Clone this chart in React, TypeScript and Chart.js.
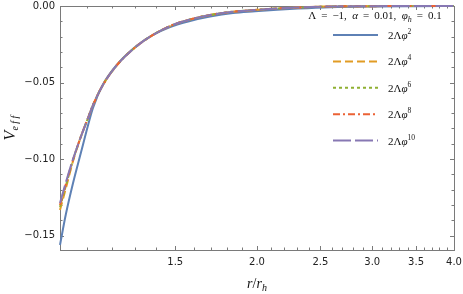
import React, { useEffect, useRef } from "react";
import { Chart, registerables } from "chart.js";

Chart.register(...registerables);

// ---- data ----
const rValues = [1.0, 1.021, 1.047, 1.077, 1.104, 1.123, 1.163, 1.226, 1.311, 1.387, 1.473, 1.58, 1.695, 1.838, 1.986, 2.146, 2.31, 2.586, 3.0, 3.5, 4.0];
const vPhi2 = [-0.1561, -0.1359, -0.1156, -0.0954, -0.0777, -0.0666, -0.0513, -0.0376, -0.0258, -0.0189, -0.0137, -0.0098, -0.0069, -0.0046, -0.0035, -0.0025, -0.0017, -0.0008, -0.0003, -0.0001, 0];
const vPhi4 = [-0.1333, -0.1189, -0.1013, -0.0850, -0.0730, -0.0647, -0.0516, -0.0379, -0.0261, -0.0189, -0.0131, -0.0088, -0.0059, -0.0037, -0.0026, -0.0016, -0.0010, -0.0003, -0.0001, 0, 0];
const vPhi6 = [-0.1313, -0.1173, -0.1006, -0.0850, -0.0730, -0.0647, -0.0516, -0.0379, -0.0261, -0.0189, -0.0131, -0.0088, -0.0059, -0.0037, -0.0026, -0.0016, -0.0010, -0.0003, -0.0001, 0, 0];
const vPhi8 = [-0.1300, -0.1163, -0.1003, -0.0850, -0.0730, -0.0647, -0.0516, -0.0379, -0.0261, -0.0189, -0.0131, -0.0088, -0.0059, -0.0037, -0.0026, -0.0016, -0.0010, -0.0003, -0.0001, 0, 0];
const vPhi10 = [-0.1287, -0.1152, -0.1000, -0.0850, -0.0730, -0.0647, -0.0516, -0.0379, -0.0261, -0.0189, -0.0131, -0.0088, -0.0059, -0.0037, -0.0026, -0.0016, -0.0010, -0.0003, -0.0001, 0, 0];

const seriesValues = [vPhi2, vPhi4, vPhi6, vPhi8, vPhi10];
const seriesBase = "2Λφ";
const seriesExponents = ["2", "4", "6", "8", "10"];
const seriesColors = ["#5E81B5", "#E19C24", "#8FB032", "#EB6235", "#8778B3"];
const seriesDashes: number[][] = [[], [8, 4], [3, 3], [7, 3, 2, 3], [18, 4]];

const xMajorTicks = [1.5, 2.0, 2.5, 3.0, 3.5, 4.0];
const xMinorTicks = [1.1, 1.2, 1.3, 1.4, 1.6, 1.7, 1.8, 1.9, 2.1, 2.2, 2.3, 2.4, 2.6, 2.7, 2.8, 2.9, 3.1, 3.2, 3.3, 3.4, 3.6, 3.7, 3.8, 3.9];
const yMajorTicks = [-0.15, -0.10, -0.05, 0.0];
const yMinorTicks = [-0.14, -0.13, -0.12, -0.11, -0.09, -0.08, -0.07, -0.06, -0.04, -0.03, -0.02, -0.01];

const X_MIN = 1.0;
const X_MAX = 4.0;
const Y_MIN = -0.1594;
const Y_MAX = 0.0;

const SERIF = '"Liberation Serif", "DejaVu Serif", serif';
const SANS = '"DejaVu Sans", sans-serif';
const FRAME = "#7a7a7a";
const TS = "\u2009";

type Seg = { t: string; size: number; it?: boolean; dy?: number };

function segFont(s: Seg) {
  return `${s.it ? "italic " : ""}${s.size}px ${SERIF}`;
}

function richWidth(ctx: CanvasRenderingContext2D, segs: Seg[]) {
  let w = 0;
  for (const s of segs) {
    ctx.font = segFont(s);
    w += ctx.measureText(s.t).width;
  }
  return w;
}

function drawRich(ctx: CanvasRenderingContext2D, x: number, y: number, segs: Seg[], align: "left" | "center") {
  let cx = align === "center" ? x - richWidth(ctx, segs) / 2 : x;
  ctx.textAlign = "left";
  ctx.textBaseline = "alphabetic";
  for (const s of segs) {
    ctx.font = segFont(s);
    ctx.fillText(s.t, cx, y + (s.dy || 0));
    cx += ctx.measureText(s.t).width;
  }
}

const framePlugin = {
  id: "mmaFrame",
  beforeDatasetsDraw(chart: any) {
    const { ctx, chartArea } = chart;
    const xs = chart.scales.x;
    const ys = chart.scales.y;
    const { left, right, top, bottom } = chartArea;
    ctx.save();
    ctx.strokeStyle = FRAME;
    ctx.lineWidth = 1;
    ctx.strokeRect(Math.round(left) + 0.5, Math.round(top) + 0.5, Math.round(right - left), Math.round(bottom - top));
    const tick = (vals: number[], len: number, isX: boolean) => {
      for (const v of vals) {
        ctx.beginPath();
        if (isX) {
          const px = Math.round(xs.getPixelForValue(v)) + 0.5;
          ctx.moveTo(px, bottom);
          ctx.lineTo(px, bottom - len);
          ctx.moveTo(px, top);
          ctx.lineTo(px, top + len);
        } else {
          const py = Math.round(ys.getPixelForValue(v)) + 0.5;
          ctx.moveTo(left, py);
          ctx.lineTo(left + len, py);
          ctx.moveTo(right, py);
          ctx.lineTo(right - len, py);
        }
        ctx.stroke();
      }
    };
    tick(xMajorTicks, 4, true);
    tick(xMinorTicks, 2.5, true);
    tick(yMajorTicks, 4, false);
    tick(yMinorTicks, 2.5, false);
    ctx.restore();
  },
  afterDraw(chart: any) {
    const { ctx, chartArea } = chart;
    ctx.save();
    ctx.fillStyle = "#111";
    // axis titles
    const cxPlot = (chartArea.left + chartArea.right) / 2;
    drawRich(ctx, cxPlot, 288, [
      { t: "r", size: 14, it: true },
      { t: "/", size: 14 },
      { t: "r", size: 14, it: true },
      { t: "h", size: 10, it: true, dy: 3 },
    ], "center");
    ctx.save();
    ctx.translate(15, (chartArea.top + chartArea.bottom) / 2);
    ctx.rotate(-Math.PI / 2);
    drawRich(ctx, 0, 0, [
      { t: "V", size: 16, it: true },
      { t: "e f f", size: 10, it: true, dy: 3 },
    ], "center");
    ctx.restore();

    // legend header
    drawRich(ctx, 375, 19, [
      { t: `Λ${TS} = ${TS}−1,  `, size: 11 },
      { t: "α", size: 11, it: true },
      { t: `${TS} = ${TS}0.01,  `, size: 11 },
      { t: "φ", size: 11, it: true },
      { t: "h", size: 8, it: true, dy: 2.5 },
      { t: `${TS} = ${TS}0.1`, size: 11 },
    ], "center");

    // legend entries
    const y0 = 35;
    const dy = 26.4;
    for (let i = 0; i < seriesColors.length; i++) {
      const y = y0 + i * dy;
      ctx.save();
      ctx.strokeStyle = seriesColors[i];
      ctx.lineWidth = 2;
      ctx.setLineDash(seriesDashes[i]);
      ctx.beginPath();
      ctx.moveTo(333, y);
      ctx.lineTo(378, y);
      ctx.stroke();
      ctx.restore();
      drawRich(ctx, 388, y + 4, [
        { t: seriesBase.slice(0, 2), size: 11 },
        { t: seriesBase.slice(2), size: 11, it: true },
        { t: seriesExponents[i], size: 7.5, dy: -5 },
      ], "left");
    }
    ctx.restore();
  },
};

function zeroPad(s: any) {
  s.paddingTop = 0;
  s.paddingBottom = 0;
  s.paddingLeft = 0;
  s.paddingRight = 0;
}

export default function App() {
  const ref = useRef<HTMLCanvasElement | null>(null);
  useEffect(() => {
    if (!ref.current) return;
    const datasets = seriesValues.map((vals, i) => ({
      label: seriesBase + seriesExponents[i],
      data: rValues.map((r, j) => ({ x: r, y: vals[j] })),
      borderColor: seriesColors[i],
      backgroundColor: seriesColors[i],
      borderWidth: 2,
      borderDash: seriesDashes[i],
      pointRadius: 0,
      cubicInterpolationMode: "monotone" as const,
      fill: false,
      clip: false as const,
      order: seriesValues.length - 1 - i,
    }));
    const chart = new Chart(ref.current, {
      type: "line",
      data: { datasets },
      options: {
        animation: false,
        responsive: true,
        maintainAspectRatio: false,
        layout: { padding: { left: 0, top: 6, right: 9, bottom: 0 } },
        plugins: { legend: { display: false }, tooltip: { enabled: false } },
        scales: {
          x: {
            type: "logarithmic",
            min: X_MIN,
            max: X_MAX,
            grid: { display: false, drawTicks: false },
            border: { display: false },
            afterBuildTicks: (s: any) => {
              s.ticks = xMajorTicks.map((v) => ({ value: v }));
            },
            afterFit: (s: any) => {
              s.height = 44;
              zeroPad(s);
            },
            ticks: {
              autoSkip: false,
              maxRotation: 0,
              padding: 6,
              color: "#222",
              font: { family: SANS, size: 10 },
              callback: (v: any) => Number(v).toFixed(1),
            },
          },
          y: {
            type: "linear",
            min: Y_MIN,
            max: Y_MAX,
            grid: { display: false, drawTicks: false },
            border: { display: false },
            afterBuildTicks: (s: any) => {
              s.ticks = yMajorTicks.map((v) => ({ value: v }));
            },
            afterFit: (s: any) => {
              s.width = 60;
              zeroPad(s);
            },
            ticks: {
              autoSkip: false,
              padding: 5,
              color: "#222",
              font: { family: SANS, size: 10 },
              callback: (v: any) => {
                const n = Number(v);
                const s = Math.abs(n).toFixed(2);
                return n < -1e-9 ? "−" + s : s;
              },
            },
          },
        },
      },
      plugins: [framePlugin],
    } as any);
    return () => chart.destroy();
  }, []);
  return (
    <div style={{ position: "fixed", left: 0, top: 0, width: 463, height: 294 }}>
      <canvas ref={ref} />
    </div>
  );
}
